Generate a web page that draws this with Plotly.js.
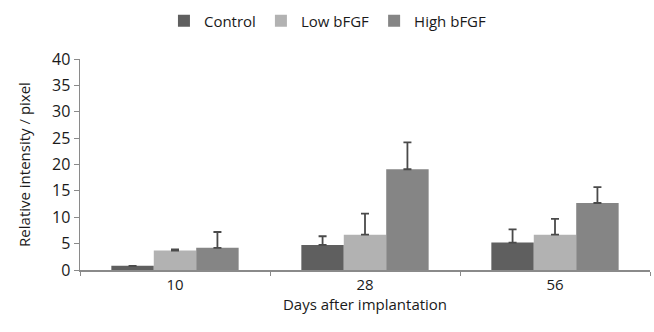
<!DOCTYPE html>
<html>
<head>
<meta charset="utf-8">
<script src="https://cdn.plot.ly/plotly-3.0.1.min.js"></script>
<style>html,body{margin:0;padding:0;background:#fff;}#chart{width:654px;height:332px;}</style>
</head>
<body>
<div id="chart"></div>
<script>
var days = ["10", "28", "56"];
var seriesNames = ["Control", "Low bFGF", "High bFGF"];
var controlVals = [0.8, 4.75, 5.2];
var controlErr = [0, 1.65, 2.5];
var lowVals = [3.7, 6.7, 6.7];
var lowErr = [0.2, 4.0, 3.0];
var highVals = [4.2, 19.1, 12.7];
var highErr = [3.0, 5.1, 3.0];
var yTicks = [0, 5, 10, 15, 20, 25, 30, 35, 40];

var colors = ["#5f5f5f", "#b2b2b2", "#858585"];
var vals = [controlVals, lowVals, highVals];
var errs = [controlErr, lowErr, highErr];

var traces = vals.map(function (v, i) {
  return {
    type: "bar",
    name: seriesNames[i],
    x: days,
    y: v,
    marker: { color: colors[i], line: { width: 0 } },
    error_y: {
      type: "data",
      array: errs[i],
      arrayminus: errs[i].map(function () { return 0; }),
      symmetric: false,
      color: "#4a4a4a",
      thickness: 1.8,
      width: 4
    }
  };
});

var layout = {
  width: 654,
  height: 332,
  margin: { l: 80, r: 4, t: 56, b: 62 },
  paper_bgcolor: "#fff",
  plot_bgcolor: "#fff",
  font: { family: "Open Sans, sans-serif", color: "#1a1a1a", size: 15 },
  barmode: "group",
  bargap: 0.33,
  bargroupgap: 0,
  showlegend: true,
  legend: {
    orientation: "h",
    x: 0.435, xanchor: "center",
    y: 1.18, yanchor: "middle",
    font: { size: 15, color: "#1a1a1a" },
    itemwidth: 30,
    tracegroupgap: 0
  },
  xaxis: {
    type: "category",
    showline: true,
    linecolor: "#8a8a8a",
    linewidth: 1.5,
    ticks: "outside",
    tickson: "boundaries",
    ticklen: 4,
    tickcolor: "#8a8a8a",
    showgrid: false,
    tickfont: { size: 15 },
    title: { text: "Days after implantation", font: { size: 15 }, standoff: 4 }
  },
  yaxis: {
    range: [0, 40],
    tickvals: yTicks,
    showline: true,
    linecolor: "#8a8a8a",
    linewidth: 1.5,
    ticks: "outside",
    ticklen: 5,
    tickcolor: "#8a8a8a",
    showgrid: false,
    zeroline: false,
    tickfont: { size: 16 },
    title: { text: "Relative intensity / pixel", font: { size: 15 }, standoff: 18 }
  }
};

Plotly.newPlot("chart", traces, layout, { displayModeBar: false, staticPlot: true });
</script>
</body>
</html>
